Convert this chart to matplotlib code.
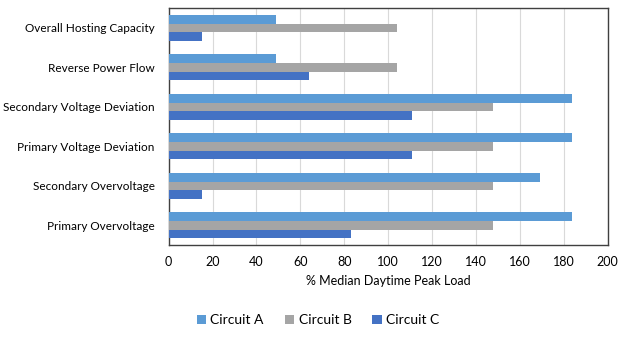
import numpy as np
import matplotlib.pyplot as plt

plt.rcParams['font.family'] = ['Lato', 'DejaVu Sans']

categories = ['Overall Hosting Capacity', 'Reverse Power Flow',
              'Secondary Voltage Deviation', 'Primary Voltage Deviation',
              'Secondary Overvoltage', 'Primary Overvoltage']
circuit_a = [49, 49, 184, 184, 169, 184]
circuit_b = [104, 104, 148, 148, 148, 148]
circuit_c = [15, 64, 111, 111, 15, 83]
series_names = ['Circuit A', 'Circuit B', 'Circuit C']
colors = ['#5B9BD5', '#A5A5A5', '#4472C4']

fig = plt.figure(figsize=(6.2, 3.39), dpi=100)
ax = fig.add_axes([0.272, 0.277, 0.708, 0.699])

y = np.arange(len(categories))
h = 0.22
for i, (vals, name, col) in enumerate(zip([circuit_a, circuit_b, circuit_c], series_names, colors)):
    ax.barh(y + (i - 1) * h, vals, height=h, color=col, label=name, zorder=3)

ax.set_ylim(len(categories) - 0.5, -0.5)
ax.set_yticks(y)
ax.set_yticklabels(categories, fontsize=8.5)
ax.set_xlim(0, 200)
ax.set_xticks(range(0, 201, 20))
ax.tick_params(axis='x', labelsize=9, length=0, pad=8)
ax.tick_params(axis='y', length=0, pad=10)
ax.grid(axis='x', color='#D9D9D9', linewidth=0.8, zorder=0)
for s in ax.spines.values():
    s.set_color('#404040')
    s.set_linewidth(1.0)
ax.set_xlabel('% Median Daytime Peak Load', fontsize=9, labelpad=5)

fig.legend(loc='center', bbox_to_anchor=(0.513, 0.055), ncol=3, frameon=False,
           fontsize=10, handlelength=0.7, handleheight=0.7, handletextpad=0.3,
           columnspacing=1.5)

fig.savefig('out.png', dpi=100)
